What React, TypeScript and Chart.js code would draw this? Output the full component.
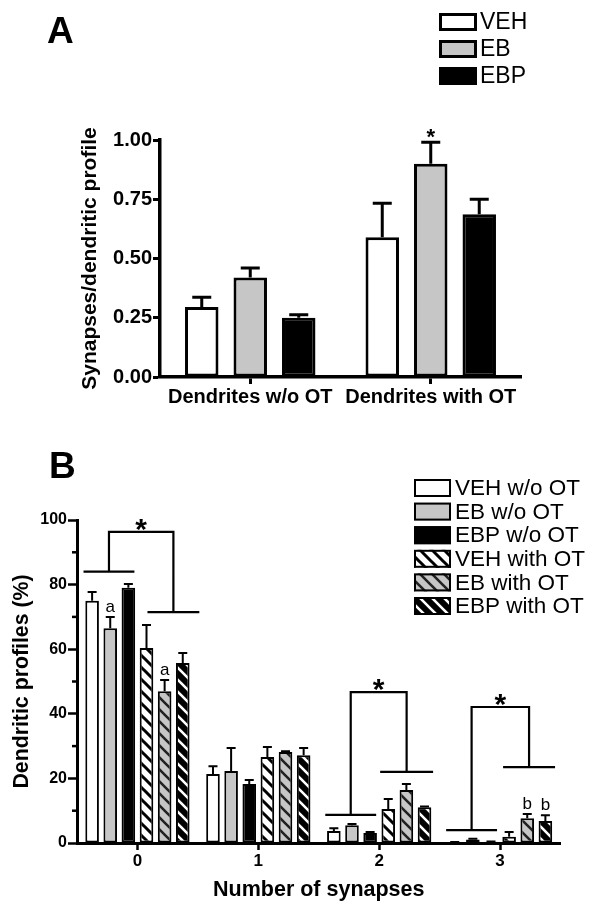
import React, { useEffect, useRef } from 'react';
import { Chart, registerables } from 'chart.js';

Chart.register(...registerables);

const FONT = "'Liberation Sans', Arial, Helvetica, sans-serif";

// ---------------- Panel A data ----------------
const categoriesA = ['Dendrites w/o OT', 'Dendrites with OT'];
const seriesNamesA = ['VEH', 'EB', 'EBP'];
const vehA = [0.295, 0.59];
const ebA = [0.42, 0.9];
const ebpA = [0.25, 0.687];
const vehErrA = [0.042, 0.143];
const ebErrA = [0.04, 0.09];
const ebpErrA = [0.013, 0.063];
const yTicksA = [0, 0.25, 0.5, 0.75, 1.0];
const starSeriesA = [1];
const starCategoryA = [1];

// ---------------- Panel B data ----------------
const categoriesB = ['0', '1', '2', '3'];
const seriesNamesB = ['VEH w/o OT', 'EB w/o OT', 'EBP w/o OT', 'VEH with OT', 'EB with OT', 'EBP with OT'];
const vehWoB = [75, 21.4, 3.7, 0.2];
const ebWoB = [66.5, 22.3, 5.5, 1.1];
const ebpWoB = [79, 18.3, 3.1, 0.4];
const vehWithB = [60.4, 26.6, 10.5, 1.9];
const ebWithB = [47, 28.2, 16.4, 7.7];
const ebpWithB = [55.7, 27.2, 11.1, 6.8];
const vehWoErrB = [2.7, 2.4, 0.9, 0.1];
const ebWoErrB = [3.5, 7.1, 0.4, 0.2];
const ebpWoErrB = [1.2, 1.2, 0.3, 0.1];
const vehWithErrB = [7.1, 3.1, 3.1, 1.5];
const ebWithErrB = [3.5, 0.2, 1.9, 1.3];
const ebpWithErrB = [3.1, 2.2, 0.2, 1.8];
const yTicksB = [0, 20, 40, 60, 80, 100];
const yMinorTicksB = [10, 30, 50, 70, 90];

// significance brackets (category, y levels in data units)
const bracketCategory = [0, 2, 3];
const bracketLowLeft = [84, 8.7, 4.0];
const bracketLowRight = [71.5, 22, 23.5];
const bracketTop = [96.3, 46.7, 42.1];

// letter marks above bars
const letterText = ['a', 'a', 'b', 'b'];
const letterSeries = [1, 4, 4, 5];
const letterCategory = [0, 0, 3, 3];

// ---------------- styles / geometry ----------------
const WHITE = '#ffffff';
const GRAY = '#c6c6c6';
const BLACK = '#000000';
// horizontal extents of bracket arms, in category widths relative to the category centre
const BR_LEFT_START = -0.446;
const BR_LEFT_END = -0.025;
const bracketRightStart = [0.083, 0.008, 0.025];
const bracketRightEnd = [0.512, 0.446, 0.455];

function makeHatch(bg: string, fg: string, lw: number) {
  const s = 12;
  const c = document.createElement('canvas');
  c.width = s;
  c.height = s;
  const g = c.getContext('2d')!;
  g.fillStyle = bg;
  g.fillRect(0, 0, s, s);
  g.strokeStyle = fg;
  g.lineWidth = lw;
  g.beginPath();
  for (let k = -1; k <= 1; k++) {
    g.moveTo(k * s - 2, -2);
    g.lineTo(k * s + s + 2, s + 2);
  }
  g.stroke();
  return g.createPattern(c, 'repeat')!;
}

const errorBars = {
  id: 'errbars',
  afterDatasetsDraw(chart: any, _a: any, o: any) {
    const { ctx } = chart;
    const y = chart.scales.y;
    ctx.save();
    ctx.strokeStyle = '#000';
    ctx.lineWidth = o.lineWidth;
    chart.data.datasets.forEach((ds: any, di: number) => {
      const meta = chart.getDatasetMeta(di);
      const errs = o.errors[di];
      meta.data.forEach((bar: any, i: number) => {
        const top = y.getPixelForValue(ds.data[i] + errs[i]);
        ctx.beginPath();
        ctx.moveTo(bar.x, bar.y);
        ctx.lineTo(bar.x, top);
        ctx.moveTo(bar.x - o.cap, top);
        ctx.lineTo(bar.x + o.cap, top);
        ctx.stroke();
      });
    });
    ctx.restore();
  },
};

const boxLegend = {
  id: 'boxLegend',
  afterDraw(chart: any, _a: any, o: any) {
    const { ctx } = chart;
    ctx.save();
    chart.data.datasets.forEach((ds: any, i: number) => {
      const top = o.top + i * o.pitch;
      ctx.fillStyle = ds.backgroundColor;
      ctx.fillRect(o.left, top, o.boxW, o.boxH);
      ctx.lineWidth = o.border;
      ctx.strokeStyle = '#000';
      ctx.strokeRect(o.left + o.border / 2, top + o.border / 2, o.boxW - o.border, o.boxH - o.border);
      ctx.fillStyle = '#000';
      ctx.font = o.font;
      ctx.textAlign = 'left';
      ctx.textBaseline = 'middle';
      ctx.fillText(ds.label, o.left + o.boxW + o.gap, top + o.boxH / 2 + 1);
    });
    ctx.restore();
  },
};

const panelLetter = {
  id: 'panelLetter',
  afterDraw(chart: any, _a: any, o: any) {
    const { ctx } = chart;
    ctx.save();
    ctx.fillStyle = '#000';
    ctx.font = `bold 37px ${FONT}`;
    ctx.textAlign = 'left';
    ctx.textBaseline = 'alphabetic';
    ctx.fillText(o.text, o.x, o.y);
    ctx.restore();
  },
};

function drawStar(ctx: any, x: number, cy: number, size: number) {
  ctx.font = `bold ${size}px ${FONT}`;
  ctx.textAlign = 'center';
  ctx.textBaseline = 'alphabetic';
  ctx.fillText('*', x, cy + 0.57 * size);
}

const starsA = {
  id: 'starsA',
  afterDatasetsDraw(chart: any, _a: any, o: any) {
    const { ctx } = chart;
    const y = chart.scales.y;
    ctx.save();
    ctx.fillStyle = '#000';
    starSeriesA.forEach((s, k) => {
      const i = starCategoryA[k];
      const bar = chart.getDatasetMeta(s).data[i];
      const v = chart.data.datasets[s].data[i] + o.errors[s][i];
      drawStar(ctx, bar.x, y.getPixelForValue(v) - 11, 22);
    });
    ctx.restore();
  },
};

const annotationsB = {
  id: 'annotB',
  afterDatasetsDraw(chart: any, _a: any, o: any) {
    const { ctx } = chart;
    const x = chart.scales.x;
    const y = chart.scales.y;
    const cw = x.getPixelForValue(1) - x.getPixelForValue(0);
    ctx.save();
    ctx.strokeStyle = '#000';
    ctx.fillStyle = '#000';
    ctx.lineWidth = 2.2;
    bracketCategory.forEach((c, k) => {
      const cx = x.getPixelForValue(c);
      const l0 = cx + BR_LEFT_START * cw;
      const l1 = cx + BR_LEFT_END * cw;
      const r0 = cx + bracketRightStart[k] * cw;
      const r1 = cx + bracketRightEnd[k] * cw;
      const lv = (l0 + l1) / 2;
      const rv = (r0 + r1) / 2;
      const yl = y.getPixelForValue(bracketLowLeft[k]);
      const yr = y.getPixelForValue(bracketLowRight[k]);
      const yt = y.getPixelForValue(bracketTop[k]);
      ctx.beginPath();
      ctx.moveTo(l0, yl);
      ctx.lineTo(l1, yl);
      ctx.moveTo(lv, yl);
      ctx.lineTo(lv, yt);
      ctx.lineTo(rv, yt);
      ctx.lineTo(rv, yr);
      ctx.moveTo(r0, yr);
      ctx.lineTo(r1, yr);
      ctx.stroke();
      drawStar(ctx, (lv + rv) / 2, yt - 10, 30);
    });
    ctx.font = `17px ${FONT}`;
    ctx.textAlign = 'center';
    ctx.textBaseline = 'alphabetic';
    letterText.forEach((t, k) => {
      const s = letterSeries[k];
      const i = letterCategory[k];
      const bar = chart.getDatasetMeta(s).data[i];
      const v = chart.data.datasets[s].data[i] + o.errors[s][i];
      ctx.fillText(t, bar.x, y.getPixelForValue(v) - 5);
    });
    // minor ticks on the y axis
    ctx.lineWidth = 2.5;
    yMinorTicksB.forEach((v) => {
      const py = y.getPixelForValue(v);
      ctx.beginPath();
      ctx.moveTo(chart.chartArea.left - 5, py);
      ctx.lineTo(chart.chartArea.left, py);
      ctx.stroke();
    });
    ctx.restore();
  },
};

export default function App() {
  const refA = useRef<HTMLCanvasElement>(null);
  const refB = useRef<HTMLCanvasElement>(null);

  useEffect(() => {
    const hatchWhite = makeHatch(WHITE, BLACK, 3);
    const hatchGray = makeHatch(GRAY, '#222222', 2.6);
    const hatchBlack = makeHatch(BLACK, WHITE, 2.6);

    const errorsA = [vehErrA, ebErrA, ebpErrA];
    const chartA = new Chart(refA.current!, {
      type: 'bar',
      data: {
        labels: categoriesA,
        datasets: [
          { label: seriesNamesA[0], data: vehA, backgroundColor: WHITE },
          { label: seriesNamesA[1], data: ebA, backgroundColor: GRAY },
          { label: seriesNamesA[2], data: ebpA, backgroundColor: BLACK },
        ],
      },
      options: {
        responsive: false,
        animation: false,
        devicePixelRatio: 1,
        layout: { padding: { left: 0, top: 140, right: 79, bottom: 13 } },
        datasets: {
          bar: {
            categoryPercentage: 0.806,
            barPercentage: 0.69,
            borderWidth: 3,
            borderColor: BLACK,
            borderSkipped: false,
          },
        },
        plugins: {
          legend: { display: false },
          tooltip: { enabled: false },
          errbars: { errors: errorsA, cap: 9.5, lineWidth: 3 },
          starsA: { errors: errorsA },
          boxLegend: { left: 439, top: 13, pitch: 27, boxW: 38, boxH: 18, border: 3, gap: 3, font: `23px ${FONT}` },
          panelLetter: { text: 'A', x: 47, y: 43 },
        } as any,
        scales: {
          x: {
            afterFit: (s: any) => { s.height = 40; },
            grid: { display: true, drawOnChartArea: false, offset: false, tickLength: 7, tickWidth: 3, tickColor: BLACK },
            border: { display: true, width: 3.5, color: BLACK },
            ticks: { color: BLACK, padding: 1, font: { family: FONT, size: 20, weight: 'bold' } },
          },
          y: {
            min: 0,
            max: 1,
            afterFit: (s: any) => { s.width = 160; },
            afterBuildTicks: (s: any) => { s.ticks = yTicksA.map((v) => ({ value: v })); },
            grid: { display: true, drawOnChartArea: false, tickLength: 7, tickWidth: 3, tickColor: BLACK },
            border: { display: true, width: 3.5, color: BLACK },
            ticks: {
              color: BLACK,
              padding: 1,
              font: { family: FONT, size: 20, weight: 'bold' },
              callback: (v: any) => Number(v).toFixed(2),
            },
            title: {
              display: true,
              text: 'Synapses/dendritic profile',
              color: BLACK,
              padding: { top: 78, bottom: 0 },
              font: { family: FONT, size: 21, weight: 'bold' },
            },
          },
        },
      },
      plugins: [errorBars, starsA, boxLegend, panelLetter],
    } as any);

    const errorsB = [vehWoErrB, ebWoErrB, ebpWoErrB, vehWithErrB, ebWithErrB, ebpWithErrB];
    const chartB = new Chart(refB.current!, {
      type: 'bar',
      data: {
        labels: categoriesB,
        datasets: [
          { label: seriesNamesB[0], data: vehWoB, backgroundColor: WHITE },
          { label: seriesNamesB[1], data: ebWoB, backgroundColor: GRAY },
          { label: seriesNamesB[2], data: ebpWoB, backgroundColor: BLACK },
          { label: seriesNamesB[3], data: vehWithB, backgroundColor: hatchWhite },
          { label: seriesNamesB[4], data: ebWithB, backgroundColor: hatchGray },
          { label: seriesNamesB[5], data: ebpWithB, backgroundColor: hatchBlack },
        ],
      },
      options: {
        responsive: false,
        animation: false,
        devicePixelRatio: 1,
        layout: { padding: { left: 0, top: 90, right: 39.5, bottom: 0 } },
        datasets: {
          bar: {
            categoryPercentage: 0.9,
            barPercentage: 0.75,
            borderWidth: 2,
            borderColor: BLACK,
            borderSkipped: false,
          },
        },
        plugins: {
          legend: { display: false },
          tooltip: { enabled: false },
          errbars: { errors: errorsB, cap: 4.5, lineWidth: 2 },
          annotB: { errors: errorsB },
          boxLegend: { left: 414, top: 49, pitch: 23.6, boxW: 37, boxH: 18, border: 2, gap: 4, font: `22.5px ${FONT}` },
          panelLetter: { text: 'B', x: 49, y: 48 },
        } as any,
        scales: {
          x: {
            afterFit: (s: any) => { s.height = 66; },
            grid: { display: true, drawOnChartArea: false, offset: false, tickLength: 7, tickWidth: 2.5, tickColor: BLACK },
            border: { display: true, width: 3, color: BLACK },
            ticks: { color: BLACK, padding: 1, font: { family: FONT, size: 17, weight: 'bold' } },
            title: {
              display: true,
              text: 'Number of synapses',
              color: BLACK,
              padding: { top: 0, bottom: 6 },
              font: { family: FONT, size: 21.5, weight: 'bold' },
            },
          },
          y: {
            min: 0,
            max: 100,
            afterFit: (s: any) => { s.width = 77; },
            afterBuildTicks: (s: any) => { s.ticks = yTicksB.map((v) => ({ value: v })); },
            grid: { display: true, drawOnChartArea: false, tickLength: 9, tickWidth: 2.5, tickColor: BLACK },
            border: { display: true, width: 3, color: BLACK },
            ticks: { color: BLACK, padding: 1, font: { family: FONT, size: 16, weight: 'bold' } },
            title: {
              display: true,
              text: 'Dendritic profiles (%)',
              color: BLACK,
              padding: { top: 9, bottom: 0 },
              font: { family: FONT, size: 21.3, weight: 'bold' },
            },
          },
        },
      },
      plugins: [errorBars, annotationsB, boxLegend, panelLetter],
    } as any);

    return () => {
      chartA.destroy();
      chartB.destroy();
    };
  }, []);

  return (
    <div style={{ position: 'absolute', left: 0, top: 0, width: 600, height: 909, background: '#fff' }}>
      <canvas ref={refA} width={600} height={430} style={{ position: 'absolute', left: 0, top: 0, width: 600, height: 430 }} />
      <canvas ref={refB} width={600} height={479} style={{ position: 'absolute', left: 0, top: 430, width: 600, height: 479 }} />
    </div>
  );
}
